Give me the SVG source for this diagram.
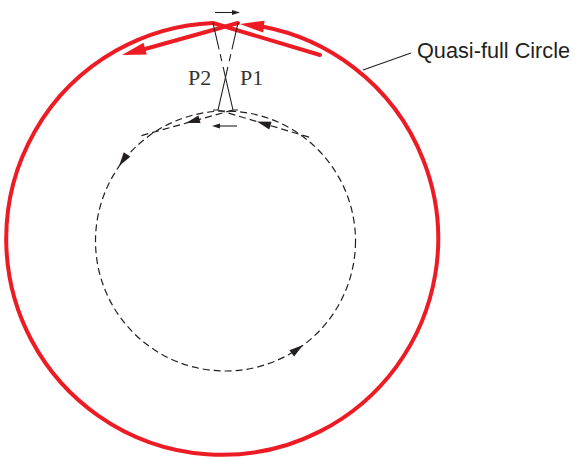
<svg xmlns="http://www.w3.org/2000/svg" xmlns:xlink="http://www.w3.org/1999/xlink" width="576" height="459" viewBox="0 0 576 459">
<style>
.red{fill:none;stroke:#ed1c24;stroke-width:4;stroke-linecap:round}
.redfill{fill:#ed1c24}
.blk{fill:none;stroke:#231f20;stroke-width:1.1}
.dash{fill:none;stroke:#231f20;stroke-width:1.2;stroke-dasharray:7 4}
.xl{fill:none;stroke:#231f20;stroke-width:1.1;stroke-dasharray:27 5 7 6 200}
.head{fill:#231f20}
.lbl{font-family:"Liberation Serif","Times New Roman",serif;font-size:22px;fill:#333}
.cap{font-family:"Liberation Sans",Arial,sans-serif;font-size:21.7px;fill:#231f20}
</style>
<defs>
<path id="ahr" d="M0,0 L-24,-6 L-24,6 Z"/>
<path id="ahk" d="M0,0 L-14,-4 L-14,4 Z"/>
<path id="ahs" d="M0,0 L-8,-2.5 L-8,2.5 Z"/>
</defs>
<g id="outer-circle">
<path class="red" d="M 213 23 A 216 216 0 1 0 262 26.5" style="stroke-linecap:butt"/>
<use href="#ahr" class="redfill" transform="translate(240,24) rotate(186.2)"/>
<path class="red" d="M 213 23 L 320 55"/>
<path class="red" d="M 238 23 L 145 49"/>
<use href="#ahr" class="redfill" transform="translate(122,55) rotate(164.6)"/>
</g>
<g id="inner-circle">
<circle class="dash" cx="225.5" cy="241" r="130"/>
<path class="dash" d="M 233 110 L 140 136"/>
<path class="dash" d="M 218 110 L 312 138"/>
<use href="#ahk" class="head" transform="translate(186,123) rotate(164.4)"/>
<use href="#ahk" class="head" transform="translate(257,121.6) rotate(196.6)"/>
<use href="#ahk" class="head" transform="translate(119,166) rotate(125.2)"/>
<use href="#ahk" class="head" transform="translate(303,345) rotate(-36.8)"/>
</g>
<g id="connectors">
<path class="xl" d="M 213 23 L 233 110 L 238 110"/>
<path class="xl" d="M 238 23 L 218 110 L 213 110"/>
<path class="blk" d="M 215 12.5 L 234 12.5"/>
<use href="#ahs" class="head" transform="translate(240,12.5)"/>
<path class="blk" d="M 237 126 L 218 126"/>
<use href="#ahs" class="head" transform="translate(212,126) rotate(180)"/>
<path class="blk" d="M 363 70 L 411 53"/>
</g>
<g id="labels">
<text class="lbl" x="188" y="84.5">P2</text>
<text class="lbl" x="240" y="84.5">P1</text>
<text class="cap" x="417" y="57.5">Quasi-full Circle</text>
</g>
</svg>
